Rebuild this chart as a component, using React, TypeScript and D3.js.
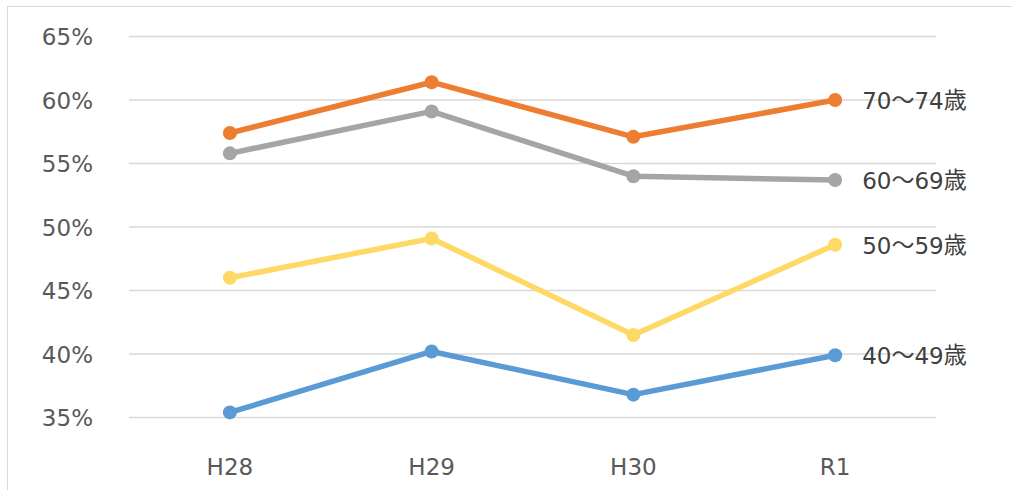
import React from "react";
import * as d3 from "d3";

const categories = ["H28", "H29", "H30", "R1"];
const yTicks = [35, 40, 45, 50, 55, 60, 65];
const seriesNames = ["40～49歳", "50～59歳", "60～69歳", "70～74歳"];
const s40 = [35.4, 40.2, 36.8, 39.9];
const s50 = [46.0, 49.1, 41.5, 48.6];
const s60 = [55.8, 59.1, 54.0, 53.7];
const s70 = [57.4, 61.4, 57.1, 60.0];
const colors = ["#5B9BD5", "#FFD966", "#A5A5A5", "#ED7D31"];

const W = 1012;
const H = 490;
const plotLeft = 129;
const plotRight = 936;
const yTop = 36.5;
const yBottom = 417.5;

const cjk = "'Noto Sans CJK JP', sans-serif";

function Label({ text, x, y }: { text: string; x: number; y: number }) {
  const parts = text.split(/(～|歳)/).filter((p) => p.length > 0);
  return (
    <text
      x={x}
      y={y}
      dominantBaseline="middle"
      fontFamily="'DejaVu Sans', Verdana, sans-serif"
      fontSize={23}
      fill="#404040"
    >
      {parts.map((p, i) =>
        p === "～" || p === "歳" ? (
          <tspan key={i} fontFamily={cjk}>
            {p}
          </tspan>
        ) : (
          <tspan key={i}>{p}</tspan>
        )
      )}
    </text>
  );
}

export default function App() {
  const series = [s40, s50, s60, s70];
  const x = d3.scaleBand<string>().domain(categories).range([plotLeft, plotRight]);
  const cx = (c: string) => (x(c) ?? 0) + x.bandwidth() / 2;
  const y = d3.scaleLinear().domain([35, 65]).range([yBottom, yTop]);
  const line = d3
    .line<number>()
    .x((_, i) => cx(categories[i]))
    .y((d) => y(d));
  const font = "'DejaVu Sans', Verdana, sans-serif";

  return (
    <svg
      width={W}
      height={H}
      style={{ position: "absolute", left: 0, top: 0, background: "#fff" }}
    >
      <rect x={7.5} y={6.5} width={W} height={H} fill="#fff" stroke="#D9D9D9" strokeWidth={1} />
      {yTicks.map((t) => (
        <g key={t}>
          <line x1={plotLeft} x2={plotRight} y1={y(t)} y2={y(t)} stroke="#D9D9D9" strokeWidth={1.3} />
          <text
            x={93}
            y={y(t) + 2}
            textAnchor="end"
            dominantBaseline="middle"
            fontFamily={font}
            fontSize={23}
            fill="#595959"
          >
            {t}%
          </text>
        </g>
      ))}
      {categories.map((c) => (
        <text
          key={c}
          x={cx(c)}
          y={468}
          textAnchor="middle"
          dominantBaseline="middle"
          fontFamily={font}
          fontSize={23}
          fill="#595959"
        >
          {c}
        </text>
      ))}
      {series.map((s, si) => (
        <g key={si}>
          <path d={line(s) ?? ""} fill="none" stroke={colors[si]} strokeWidth={5.5} strokeLinejoin="round" />
          {s.map((v, i) => (
            <circle key={i} cx={cx(categories[i])} cy={y(v)} r={7} fill={colors[si]} />
          ))}
          <Label text={seriesNames[si]} x={cx(categories[3]) + 27} y={y(s[3]) + 2} />
        </g>
      ))}
    </svg>
  );
}
